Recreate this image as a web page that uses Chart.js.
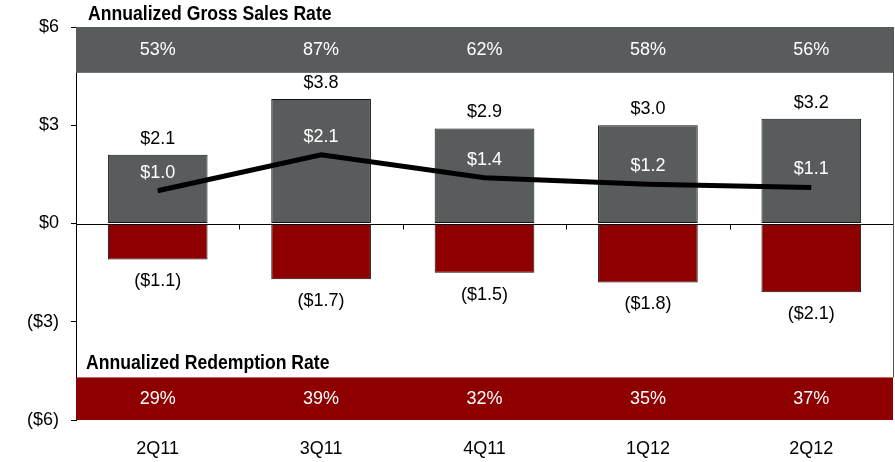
<!DOCTYPE html>
<html>
<head>
<meta charset="utf-8">
<script src="https://cdn.jsdelivr.net/npm/chart.js@4"></script>
<style>
html, body { margin: 0; padding: 0; background: #fff; }
#wrap { width: 895px; height: 462px; }
</style>
</head>
<body>
<div id="wrap"><canvas id="chart" width="895" height="462"></canvas></div>
<script>
const quarters = ['2Q11', '3Q11', '4Q11', '1Q12', '2Q12'];
const grossSales = [2.1, 3.8, 2.9, 3.0, 3.2];
const redemptions = [-1.1, -1.7, -1.5, -1.8, -2.1];
const netSales = [1.0, 2.1, 1.4, 1.2, 1.1];
const grossRate = [53, 87, 62, 58, 56];
const redemptionRate = [29, 39, 32, 35, 37];
const yTicks = [-6, -3, 0, 3, 6];

const GRAY = '#595c5d';
const RED = '#8e0000';
const FONT = '"Liberation Sans", Arial, sans-serif';

function money(v) {
    return v < 0 ? '($' + Math.abs(v).toFixed(1) + ')' : '$' + v.toFixed(1);
}

// condensed bold title, like Arial Narrow
function title(ctx, text, x, y) {
    ctx.save();
    ctx.translate(x, y);
    ctx.scale(0.88, 1);
    ctx.font = 'bold 20px ' + FONT;
    ctx.fillText(text, 0, 0);
    ctx.restore();
}

const overlay = {
    id: 'overlay',
    beforeDatasetsDraw(chart) {
        const { ctx, chartArea: a, scales: { x, y } } = chart;
        ctx.save();
        // rate bands
        let t = y.getPixelForValue(6), b = y.getPixelForValue(4.6);
        ctx.fillStyle = GRAY;
        ctx.fillRect(a.left, t, a.right - a.left, b - t);
        t = y.getPixelForValue(-4.7);
        b = y.getPixelForValue(-6);
        ctx.fillStyle = RED;
        ctx.fillRect(a.left, t, a.right - a.left, b - t);
        // right border
        ctx.strokeStyle = '#555';
        ctx.lineWidth = 1;
        ctx.beginPath();
        ctx.moveTo(a.right + 0.5, y.getPixelForValue(6));
        ctx.lineTo(a.right + 0.5, y.getPixelForValue(-4.7));
        ctx.stroke();
        ctx.restore();
    },
    afterDatasetsDraw(chart) {
        const { ctx, chartArea: a, scales: { x, y } } = chart;
        ctx.save();
        // zero line + category ticks
        const y0 = Math.round(y.getPixelForValue(0)) + 0.5;
        ctx.strokeStyle = '#000';
        ctx.lineWidth = 1;
        ctx.beginPath();
        ctx.moveTo(a.left, y0);
        ctx.lineTo(a.right, y0);
        for (let i = 1; i < quarters.length; i++) {
            const xm = Math.round((x.getPixelForValue(i - 1) + x.getPixelForValue(i)) / 2) + 0.5;
            ctx.moveTo(xm, y0);
            ctx.lineTo(xm, y0 + 5);
        }
        ctx.stroke();

        ctx.textAlign = 'center';
        ctx.textBaseline = 'middle';
        ctx.font = '18px ' + FONT;

        const gross = chart.getDatasetMeta(0).data;
        const red = chart.getDatasetMeta(1).data;
        const net = chart.getDatasetMeta(2).data;

        ctx.fillStyle = '#000';
        gross.forEach((el, i) => ctx.fillText(money(grossSales[i]), el.x, el.y - 16));
        red.forEach((el, i) => ctx.fillText(money(redemptions[i]), el.x, el.y + 22));
        ctx.fillStyle = '#fff';
        net.forEach((el, i) => ctx.fillText(money(netSales[i]), el.x, el.y - 18));

        // band percentages
        const bandTop = (y.getPixelForValue(6) + y.getPixelForValue(4.6)) / 2;
        const bandBot = (y.getPixelForValue(-4.7) + y.getPixelForValue(-6)) / 2;
        quarters.forEach((q, i) => {
            const cx = x.getPixelForValue(i);
            ctx.fillText(grossRate[i] + '%', cx, bandTop);
            ctx.fillText(redemptionRate[i] + '%', cx, bandBot);
        });

        // band titles
        ctx.fillStyle = '#000';
        ctx.textAlign = 'left';
        title(ctx, 'Annualized Gross Sales Rate', a.left + 12, y.getPixelForValue(6) - 13);
        title(ctx, 'Annualized Redemption Rate', a.left + 10, y.getPixelForValue(-4.7) - 14);
        ctx.restore();
    }
};

new Chart(document.getElementById('chart'), {
    type: 'bar',
    data: {
        labels: quarters,
        datasets: [{
            label: 'Gross Sales',
            data: grossSales,
            backgroundColor: GRAY,
            borderColor: '#111',
            borderWidth: 1,
            borderSkipped: false,
            grouped: false,
            barPercentage: 1,
            categoryPercentage: 0.61,
            order: 2
        }, {
            label: 'Redemptions',
            data: redemptions,
            backgroundColor: RED,
            borderColor: '#111',
            borderWidth: 1,
            borderSkipped: false,
            grouped: false,
            barPercentage: 1,
            categoryPercentage: 0.61,
            order: 2
        }, {
            type: 'line',
            label: 'Net Sales',
            data: netSales,
            borderColor: '#000',
            borderWidth: 5,
            pointRadius: 0,
            tension: 0,
            order: 1
        }]
    },
    options: {
        responsive: false,
        animation: false,
        devicePixelRatio: 1,
        layout: { padding: { top: 27, right: 2, left: 0, bottom: 0 } },
        plugins: {
            legend: { display: false },
            tooltip: { enabled: false }
        },
        scales: {
            x: {
                grid: { display: false },
                border: { display: false },
                ticks: { color: '#000', font: { size: 18, family: FONT }, padding: 10, maxRotation: 0, minRotation: 0 },
                afterFit(scale) { scale.height = 42; }
            },
            y: {
                min: -6,
                max: 6,
                afterBuildTicks(scale) { scale.ticks = yTicks.map(v => ({ value: v })); },
                grid: { drawOnChartArea: false, tickLength: 5, color: '#000' },
                border: { color: '#000' },
                ticks: {
                    color: '#000',
                    font: { size: 18, family: FONT },
                    padding: 12,
                    callback: v => v < 0 ? '($' + Math.abs(v) + ')' : '$' + v
                },
                afterFit(scale) { scale.width = 76; }
            }
        }
    },
    plugins: [overlay]
});
</script>
</body>
</html>
